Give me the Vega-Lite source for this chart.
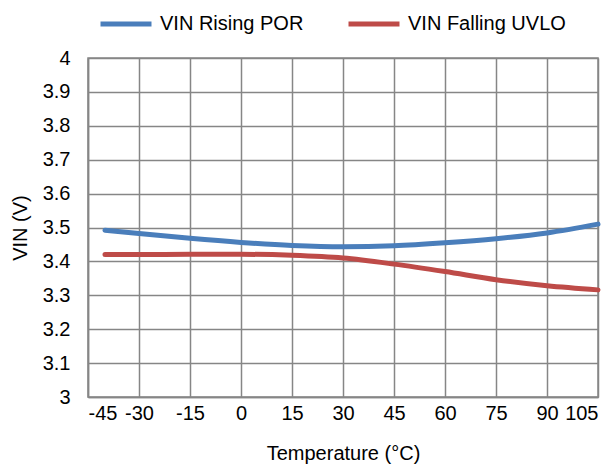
{
  "$schema": "https://vega.github.io/schema/vega-lite/v6.json",
  "width": 510,
  "height": 339,
  "autosize": {"type": "none"},
  "padding": {"left": 88, "top": 58, "right": 17, "bottom": 69},
  "background": "white",
  "config": {
    "font": "Liberation Sans",
    "view": {"stroke": "#868686", "strokeWidth": 1.5},
    "axis": {"labelFont": "Liberation Sans", "titleFont": "Liberation Sans", "labelFontSize": 20, "titleFontSize": 20, "titleFontWeight": "normal", "labelColor": "#000000", "titleColor": "#000000", "gridColor": "#868686", "gridWidth": 1.5, "gridOpacity": 1, "domainColor": "#868686", "domainWidth": 1.5, "ticks": false}
  },
  "data": {
    "values": [
      {"t": -40, "v": 3.492, "s": "VIN Rising POR"},
      {"t": -30, "v": 3.482, "s": "VIN Rising POR"},
      {"t": -15, "v": 3.468, "s": "VIN Rising POR"},
      {"t": 0, "v": 3.456, "s": "VIN Rising POR"},
      {"t": 15, "v": 3.447, "s": "VIN Rising POR"},
      {"t": 30, "v": 3.443, "s": "VIN Rising POR"},
      {"t": 45, "v": 3.446, "s": "VIN Rising POR"},
      {"t": 60, "v": 3.455, "s": "VIN Rising POR"},
      {"t": 75, "v": 3.467, "s": "VIN Rising POR"},
      {"t": 90, "v": 3.484, "s": "VIN Rising POR"},
      {"t": 105, "v": 3.51, "s": "VIN Rising POR"},
      {"t": -40, "v": 3.42, "s": "VIN Falling UVLO"},
      {"t": -30, "v": 3.42, "s": "VIN Falling UVLO"},
      {"t": -15, "v": 3.421, "s": "VIN Falling UVLO"},
      {"t": 0, "v": 3.421, "s": "VIN Falling UVLO"},
      {"t": 15, "v": 3.418, "s": "VIN Falling UVLO"},
      {"t": 30, "v": 3.41, "s": "VIN Falling UVLO"},
      {"t": 45, "v": 3.392, "s": "VIN Falling UVLO"},
      {"t": 60, "v": 3.37, "s": "VIN Falling UVLO"},
      {"t": 75, "v": 3.346, "s": "VIN Falling UVLO"},
      {"t": 90, "v": 3.328, "s": "VIN Falling UVLO"},
      {"t": 105, "v": 3.316, "s": "VIN Falling UVLO"}
    ]
  },
  "mark": {"type": "line", "interpolate": "monotone", "strokeWidth": 5, "strokeCap": "round"},
  "encoding": {
    "x": {"field": "t", "type": "quantitative", "scale": {"domain": [-45, 105], "nice": false, "zero": false},
      "axis": {"values": [-45, -30, -15, 0, 15, 30, 45, 60, 75, 90, 105], "labelExpr": "'' + datum.value", "title": "Temperature (°C)", "labelPadding": 6, "titlePadding": 20, "grid": true}},
    "y": {"field": "v", "type": "quantitative", "scale": {"domain": [3, 4], "nice": false, "zero": false},
      "axis": {"values": [3, 3.1, 3.2, 3.3, 3.4, 3.5, 3.6, 3.7, 3.8, 3.9, 4], "format": "~g", "title": "VIN (V)", "labelPadding": 18, "titlePadding": 12, "grid": true}},
    "color": {"field": "s", "type": "nominal", "sort": ["VIN Rising POR", "VIN Falling UVLO"],
      "scale": {"domain": ["VIN Rising POR", "VIN Falling UVLO"], "range": ["#4A7EBB", "#BE4B48"]},
      "legend": {"title": null, "orient": "none", "direction": "horizontal", "legendX": 10, "legendY": -62, "symbolType": "stroke", "symbolSize": 2600, "symbolStrokeWidth": 5, "labelFontSize": 20, "labelFont": "Liberation Sans", "labelColor": "#000000", "labelOffset": 6, "columnPadding": 34, "symbolLimit": 0}
    }
  }
}
